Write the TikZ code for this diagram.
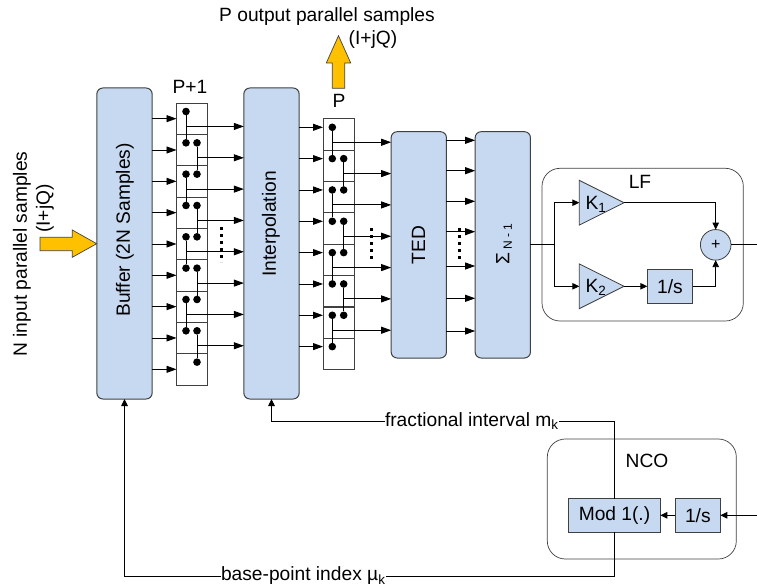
\documentclass[tikz,border=0pt]{standalone}
\usepackage{fontspec}
\setmainfont{Liberation Sans}
\usepackage{tikz}
\usetikzlibrary{arrows.meta,shapes.geometric}
\definecolor{boxblue}{HTML}{C6D9F0}
\definecolor{boxedge}{HTML}{404040}
\definecolor{bigarrow}{HTML}{FFC000}

\begin{document}
\begin{tikzpicture}[x=1pt,y=-1pt,
  txt/.style={font=\fontsize{19.2}{22}\selectfont,inner sep=0,outer sep=0,align=center},
  block/.style={draw=boxedge,fill=boxblue,line width=1pt,rounded corners=6pt,inner sep=0,outer sep=0,
                minimum width=55.3pt,minimum height=#1},
  small/.style={draw=boxedge,fill=boxblue,line width=0.8pt,inner sep=0,outer sep=0,minimum height=33.5pt,
                font=\fontsize{19.2}{22}\selectfont,minimum width=#1},
  group/.style={draw=boxedge,line width=0.7pt,rounded corners=18pt,inner sep=0,outer sep=0,anchor=north west},
  cell/.style={draw=boxedge,line width=0.9pt,fill=white,inner sep=0,outer sep=0,minimum width=31pt,minimum height=31.33pt},
  dot/.style={circle,fill=black,inner sep=0,outer sep=0,minimum size=7.6pt},
  gain/.style={isosceles triangle,isosceles triangle apex angle=53.13,draw=boxedge,fill=boxblue,line width=0.8pt,
               inner sep=0,outer sep=0,minimum height=44.7pt,anchor=lower side},
  arr/.style={-{Triangle[length=10pt,width=7pt]},line width=0.9pt},
  arrs/.style={-{Triangle[length=7pt,width=6.5pt]},line width=0.9pt},
  wire/.style={line width=0.9pt},
  vdots/.style={line width=3pt,dash pattern=on 3pt off 4pt},
  bigarr/.style={draw=boxedge,fill=bigarrow,line width=0.7pt}]
\useasboundingbox (0,0) rectangle (757,588);

\node[block=311pt] (buffer) at (124.5,243.5) {};
\node[block=311pt] (interp) at (271.5,243.5) {};
\node[block=226.3pt] (ted) at (418.8,244.85) {};
\node[block=226.3pt] (sum) at (502.8,244.85) {};
\node[txt,rotate=90] (buffertxt) at (125,230) {Buffer (2N Samples)};
\node[txt,rotate=90] (interptxt) at (271,224) {Interpolation};
\node[txt,rotate=90] (tedtxt) at (418.5,245) {TED};
\node[txt,rotate=90] (sumtxt) at (504,244) {Σ\,\raisebox{-2.5pt}{\fontsize{12}{12}\selectfont N - 1}};

\foreach \i in {1,...,9} \node[cell] (c\i) at (192,{118.67+(\i-1)*31.33}) {};
\foreach \i in {1,...,8} \node[cell] (d\i) at (338.5,{134.4+(\i-1)*31.37}) {};

\foreach \i in {1,...,8} \node[dot] (a\i) at (186,{111.5+(\i-1)*31.33}) {};
\foreach \i in {2,...,9} \node[dot] (b\i) at (197,{111.5+(\i-1)*31.33}) {};
\foreach \i in {1,...,8} \node[dot] (e\i) at (332.3,{127.3+(\i-1)*31.33}) {};
\foreach \i in {2,...,7} \node[dot] (f\i) at (343.7,{127.3+(\i-1)*31.33}) {};

\foreach \i in {1,...,9} \draw[arr] (buffer.east |- c\i) -- (c\i.west);
\foreach \i/\j in {1/2,3/4,5/6,7/8} {
  \draw[wire] (a\i) -- node[coordinate,pos=0.47] (o\i) {} (a\j);
  \draw[arr] (o\i) -- (interp.west |- o\i);
}
\foreach \i/\j in {2/3,4/5,6/7,8/9} {
  \draw[wire] (b\i) -- node[coordinate,pos=0.47] (o\i) {} (b\j);
  \draw[arr] (o\i) -- (interp.west |- o\i);
}
\foreach \i in {1,...,8} \draw[arr] (interp.east |- e\i) -- (d\i.west |- e\i);
\foreach \i/\j in {1/2,3/4,5/6,7/8} {
  \draw[wire] (e\i) -- node[coordinate,pos=0.47] (p\i) {} (e\j);
}
\foreach \i/\j in {2/3,4/5,6/7} {
  \draw[wire] (f\i) -- node[coordinate,pos=0.47] (p\i) {} (f\j);
}
\foreach \i in {1,...,7} \draw[arr] (p\i) -- (ted.west |- p\i);
\foreach \i/\ypos in {1/140.3,2/170.7,3/201.3,4/231.7,5/266,6/298.3,7/331} {
  \coordinate (t\i) at (446,\ypos);
  \draw[arr] (ted.east |- t\i) -- (sum.west |- t\i);
}

\draw[vdots] (221,227) -- (221,262);
\draw[vdots] (371,228) -- (371,262);
\draw[vdots] (459.7,228) -- (459.7,262);

\node[txt] (pplus) at (190,87) {P+1};
\node[txt] (ptxt) at (339,101) {P};
\node[txt] (outtxt) at (327,17) {P output parallel samples};
\node[txt] (outiq) at (373,40) {(I+jQ)};
\node[txt,rotate=90] (intxt) at (22,254) {N input parallel samples};
\node[txt,rotate=90] (iniq) at (45,208.5) {(I+jQ)};
\draw[bigarr] (338.5,35.7) -- (350.7,63) -- (344.7,63) -- (344.7,88.3) -- (332.3,88.3) -- (332.3,63) -- (326.3,63) -- cycle;
\draw[bigarr] (96.7,243.7) -- (72.3,230) -- (72.3,237.3) -- (40,237.3) -- (40,250.7) -- (72.3,250.7) -- (72.3,257.3) -- cycle;

\node[group,minimum width=201.3pt,minimum height=152.7pt] (lf) at (542,168.3) {};
\node[txt] (lftxt) at (640,181.7) {LF};
\node[gain] (k1) at (579.3,202.7) {};
\node[gain] (k2) at (579.3,286.3) {};
\node[txt] (k1txt) at (596,204) {K\textsubscript{1}};
\node[txt] (k2txt) at (596,287.5) {K\textsubscript{2}};
\node[small=45.4pt] (int1) at (670,286.3) {1/s};
\node[circle,draw=boxedge,fill=boxblue,line width=0.8pt,inner sep=0,outer sep=0,minimum size=30.6pt,font=\fontsize{16}{17}\selectfont] (plus) at (715.7,244.85) {+};
\coordinate (split) at (554.3,244.85);
\coordinate (lfout) at (757,244.85);
\draw[wire] (sum.east) -- (split);
\draw[arrs] (split) |- (k1.lower side);
\draw[arrs] (split) |- (k2.lower side);
\draw[arrs] (k1.apex) -| (plus.north);
\draw[arrs] (k2.apex) -- (int1.west);
\draw[arrs] (int1.east) -| (plus.south);
\draw[wire] (plus.east) -- (lfout);

\node[group,minimum width=189pt,minimum height=120pt] (nco) at (547.3,439) {};
\node[txt] (ncotxt) at (647,461) {NCO};
\node[small=91.6pt] (mod) at (614.5,515.3) {Mod 1(.)};
\node[small=45pt] (int2) at (697.8,515.3) {1/s};
\coordinate (ncoin) at (757,515.3);
\draw[arrs] (ncoin) -- (int2.east);
\draw[arrs] (int2.west) -- (mod.east);

\node[txt,anchor=west] (frac) at (385,421) {fractional interval m\textsubscript{k}};
\node[txt,anchor=west] (base) at (221,576) {base-point index µ\textsubscript{k}};
\draw[wire] (mod.north) |- (frac.east);
\draw[arrs] (frac.west) -| (interp.south);
\draw[wire] (mod.south) |- (base.east);
\draw[arrs] (base.west) -| (buffer.south);
\end{tikzpicture}
\end{document}
